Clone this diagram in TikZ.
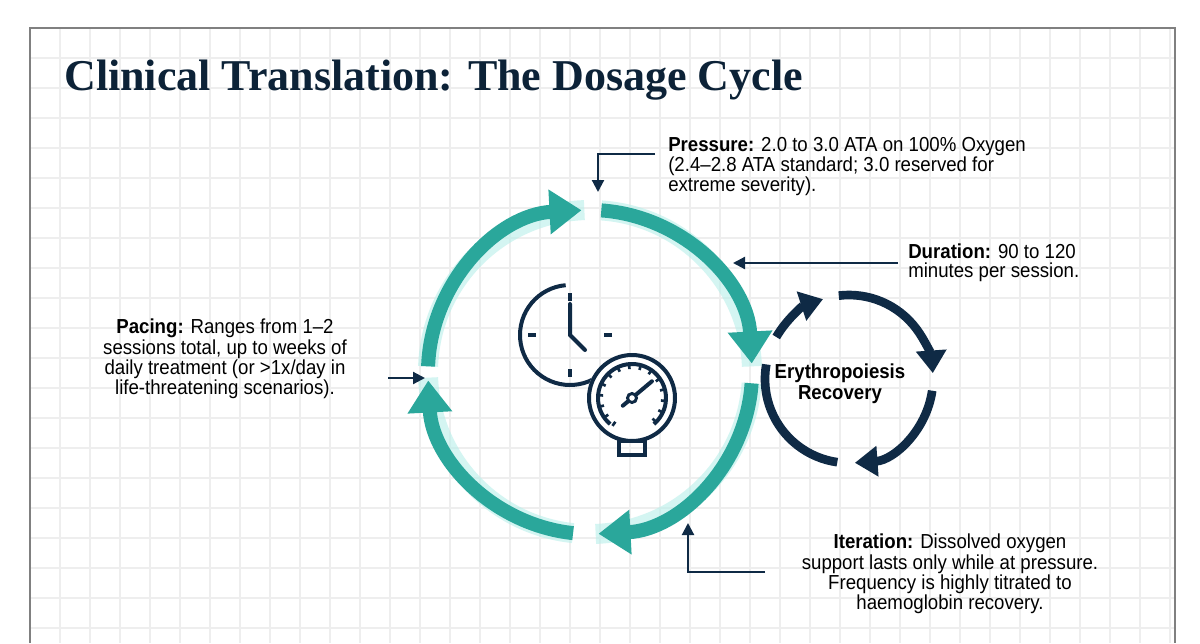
\documentclass[tikz,border=0pt]{standalone}
\usepackage{fontspec}
\setmainfont{Liberation Sans}[FakeStretch=0.92]
\newfontfamily\titlefont{Liberation Serif}
\usetikzlibrary{arrows.meta}
\definecolor{teal1}{HTML}{2AA79B}
\definecolor{glow}{HTML}{B8EFEA}
\definecolor{navy}{HTML}{0F2A45}
\definecolor{gridc}{HTML}{EEEEEE}
\begin{document}
\begin{tikzpicture}[x=0.75pt,y=-0.75pt,
  bigarc/.style={teal1,line width=10.5pt,-{Triangle[width=32pt,length=24pt]}},
  bigglow/.style={glow,line width=15pt,opacity=0.6},
  smallarc/.style={navy,line width=6.5pt,-{Triangle[width=22pt,length=17pt]}},
  callarrow/.style={navy,line width=1.6pt,-{Triangle[width=9pt,length=9pt]}},
  txt/.style={font=\fontsize{15.2pt}{14pt}\selectfont,text=black,inner sep=0pt},
  icon/.style={navy,line width=3pt}]
\useasboundingbox (0,0) rectangle (1200,643);
\fill[white] (0,0) rectangle (1200,643);
\begin{scope}
\clip (30,28) rectangle (1175,643);
\foreach \x in {60,90,...,1170} \draw[gridc,line width=0.8pt] (\x,28) -- (\x,643);
\foreach \y in {58,88,...,640} \draw[gridc,line width=0.8pt] (30,\y) -- (1175,\y);
\end{scope}
\draw[gray,line width=1pt] (30,643) -- (30,28) -- (1175,28) -- (1175,643);

\node[anchor=west,inner sep=0pt,text=navy!80!black,font=\titlefont\bfseries\fontsize{33pt}{36pt}\selectfont] (title) at (64,80) {Clinical Translation: The Dosage Cycle};

% big cycle
\coordinate (C) at (590,372);
\foreach \a/\b in {-178/-92, -86/-2, 4/88, 96/178}{
  \draw[bigglow] (C) ++(\a:162) arc[start angle=\a,end angle=\b,radius=162];
}
\draw[bigarc] (C) ++(-178:162) arc[start angle=-178,end angle=-93,radius=162];
\draw[bigarc] (C) ++(-86:162) arc[start angle=-86,end angle=-3,radius=162];
\draw[bigarc] (C) ++(4:162) arc[start angle=4,end angle=87,radius=162];
\draw[bigarc] (C) ++(96:162) arc[start angle=96,end angle=177,radius=162];

% small cycle
\coordinate (S) at (849,379);
\draw[smallarc] (S) ++(-150:84) arc[start angle=-150,end angle=-108,radius=84];
\draw[smallarc] (S) ++(-97:84) arc[start angle=-97,end angle=-4,radius=84];
\draw[smallarc] (S) ++(8:84) arc[start angle=8,end angle=86,radius=84];
\draw[navy,line width=6.5pt] (S) ++(98:84) arc[start angle=98,end angle=190,radius=84];
\node[txt,font=\bfseries\fontsize{15.2pt}{16pt}\selectfont,align=center] (ery) at (840,384) {Erythropoiesis\\Recovery};

% clock
\coordinate (K) at (570,335);
\draw[icon] (K) ++(40:50) arc[start angle=40,end angle=265,radius=50];
\draw[icon] (K) ++(-90:42) -- ++(-90:-8);
\draw[icon] (K) ++(90:42) -- ++(90:-8);
\draw[icon] (K) ++(180:42) -- ++(180:-8);
\draw[icon] (K) ++(0:42) -- ++(0:-8);
\draw[icon,line cap=round] (570,304) -- (K) -- (585,350);
% gauge
\coordinate (G) at (632,398);
\fill[white] (G) circle (45);
\draw[icon] (G) circle (43);
\draw[icon] (G) ++(130:34) arc[start angle=130,end angle=410,radius=34];
\foreach \t in {125,145,...,420}{ \draw[navy,line width=2pt] (G) ++(\t:29) -- ++(\t:5); }
\draw[icon,line cap=round] (G) ++(-220:12) -- ++(-40:38);
\fill[white] (G) circle (4.5); \draw[navy,line width=2.2pt] (G) circle (4.5);
\draw[icon] (619,441) rectangle (645,455);

% callouts
\node[txt,anchor=north west,align=left] (press) at (668,137) {\textbf{Pressure:} 2.0 to 3.0 ATA on 100\% Oxygen\\(2.4–2.8 ATA standard; 3.0 reserved for\\extreme severity).};
\coordinate (pe) at (598,192);
\draw[callarrow] (655,154) -| (pe);
\node[txt,anchor=north west,align=left] (dur) at (908,244) {\textbf{Duration:} 90 to 120\\minutes per session.};
\coordinate (de) at (733,263);
\draw[callarrow] (dur.west|-de) ++(-10,0) -- (de);
\node[txt,anchor=north,align=center] (pace) at (225,319) {\textbf{Pacing:} Ranges from 1–2\\sessions total, up to weeks of\\daily treatment (or >1x/day in\\life-threatening scenarios).};
\coordinate (pa) at (388,378);
\coordinate (pb) at (425,378);
\draw[callarrow] (pa) -- (pb);
\node[txt,anchor=north,align=center] (iter) at (950,534) {\textbf{Iteration:} Dissolved oxygen\\support lasts only while at pressure.\\Frequency is highly titrated to\\haemoglobin recovery.};
\coordinate (ie) at (688,523);
\draw[callarrow] (765,572) -| (ie);
\end{tikzpicture}
\end{document}
